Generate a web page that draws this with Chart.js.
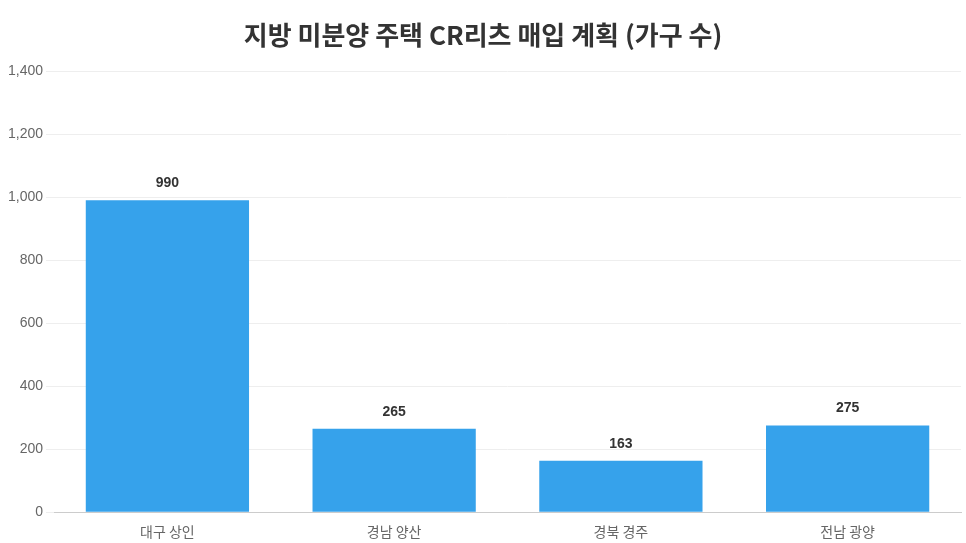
<!DOCTYPE html>
<html><head><meta charset="utf-8">
<script src="https://cdn.jsdelivr.net/npm/chart.js@4"></script>
<style>html,body{margin:0;padding:0;background:#fff}#w{width:966px;height:543px}</style>
</head><body><div id="w"><canvas id="c"></canvas></div>
<script>
const categories = ['대구 상인','경남 양산','경북 경주','전남 광양'];
const values = [990,265,163,275];
const titleText = '지방 미분양 주택 CR리츠 매입 계획 (가구 수)';
const labelPlugin = {id:'lbl',afterDatasetsDraw(chart){const ctx=chart.ctx;const meta=chart.getDatasetMeta(0);ctx.save();ctx.font='bold 14px "Liberation Sans", Arial, sans-serif';ctx.fillStyle='#333';ctx.textAlign='center';ctx.textBaseline='bottom';meta.data.forEach((b,i)=>{ctx.fillText(String(values[i]),b.x,b.y-10);});ctx.restore();}};
new Chart(document.getElementById('c'),{type:'bar',data:{labels:categories,datasets:[{data:values,backgroundColor:'#36a2eb',borderWidth:0}]},
options:{responsive:true,maintainAspectRatio:false,animation:false,layout:{padding:{left:5,right:5,top:0,bottom:0}},
plugins:{legend:{display:false},tooltip:{enabled:false},title:{display:true,text:titleText,color:'#333',font:{family:'"Noto Sans CJK KR", sans-serif',size:26,weight:'bold'},padding:{top:20,bottom:20}}},
scales:{x:{grid:{display:false},border:{color:'#ccc'},ticks:{color:'#666',font:{family:'"Noto Sans CJK KR", sans-serif',size:14}}},
y:{min:0,max:1400,ticks:{stepSize:200,color:'#666',font:{family:'"Liberation Sans", Arial, sans-serif',size:14}},grid:{color:'#eee'},border:{display:false}}}},
plugins:[labelPlugin]});
</script></body></html>
